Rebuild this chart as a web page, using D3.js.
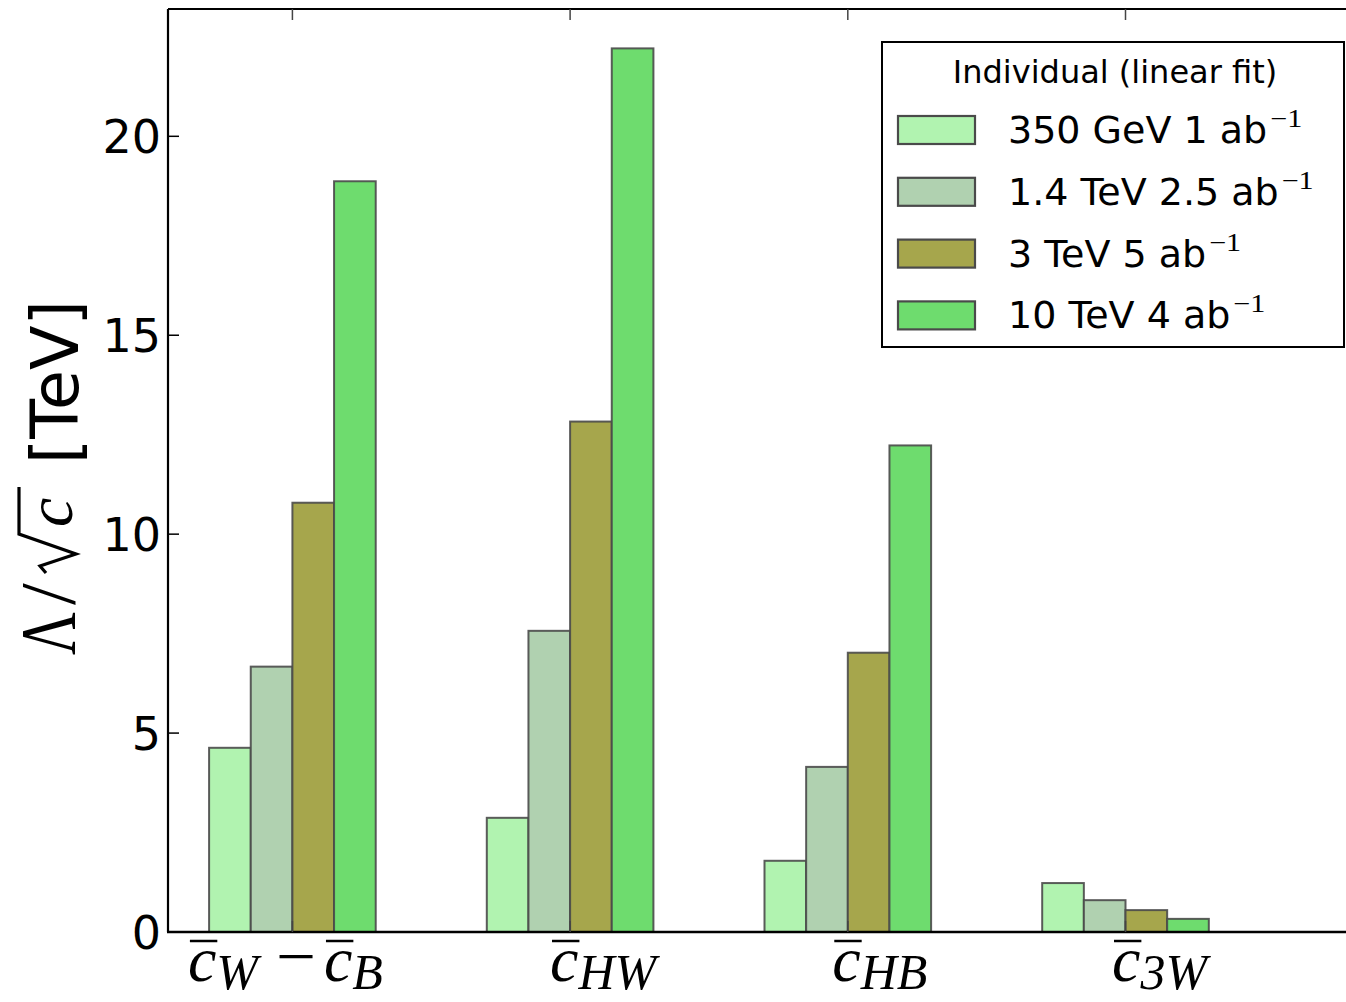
<!DOCTYPE html>
<html>
<head>
<meta charset="utf-8">
<script src="https://cdn.jsdelivr.net/npm/d3@7"></script>
<style>
  html, body { margin: 0; padding: 0; background: #fff; }
  svg { display: block; }
</style>
</head>
<body>
<svg id="chart" width="1346" height="1002"></svg>
<script>
// ---------------- data ----------------
const categories = ["c̄W − c̄B", "c̄HW", "c̄HB", "c̄3W"];
const seriesNames = ["350 GeV 1 ab", "1.4 TeV 2.5 ab", "3 TeV 5 ab", "10 TeV 4 ab"];
const seriesSup = "−1";
const vals350GeV = [4.63, 2.87, 1.79, 1.23];
const vals1p4TeV = [6.67, 7.57, 4.15, 0.80];
const vals3TeV   = [10.79, 12.83, 7.02, 0.55];
const vals10TeV  = [18.87, 22.21, 12.23, 0.33];
const seriesColors = ["#b1f3b0", "#b0d1b0", "#a6a64c", "#6edc6e"];
const yTicks = [0, 5, 10, 15, 20];
const legendTitle = "Individual (linear fit)";
const yLabelUnit = "[TeV]";
// math label pieces for categories
const categoryPieces = [
  [{t:"c", bar:true}, {t:"W", sub:true}, {t:"−", op:true}, {t:"c", bar:true}, {t:"B", sub:true}],
  [{t:"c", bar:true}, {t:"HW", sub:true}],
  [{t:"c", bar:true}, {t:"HB", sub:true}],
  [{t:"c", bar:true}, {t:"3W", sub:true}]
];

const seriesValues = [vals350GeV, vals1p4TeV, vals3TeV, vals10TeV];

// ---------------- layout ----------------
const svg = d3.select("#chart");
const plot = {left: 168, top: 9, right: 1346, bottom: 932};
const barW = 0.15;
const tickOffset = 0.3;
const x = d3.scaleLinear().domain([-0.148, 4.094]).range([plot.left, plot.right]);
const y = d3.scaleLinear().domain([0, 23.2]).range([plot.bottom, plot.top]);

const serif = "'Liberation Serif', 'DejaVu Serif', serif";
const sans = "'DejaVu Sans', 'Bitstream Vera Sans', sans-serif";

// bars
const barData = [];
seriesValues.forEach((vals, s) => {
  vals.forEach((v, i) => barData.push({s, i, v}));
});
svg.append("g").selectAll("rect").data(barData).join("rect")
  .attr("x", d => x(d.i + d.s * barW))
  .attr("y", d => y(d.v))
  .attr("width", d => x(d.i + (d.s + 1) * barW) - x(d.i + d.s * barW))
  .attr("height", d => y(0) - y(d.v))
  .attr("fill", d => seriesColors[d.s])
  .attr("stroke", "#4a4a4a")
  .attr("stroke-opacity", 0.9)
  .attr("stroke-width", 2);

// spines
const ax = svg.append("g");
ax.append("line").attr("x1", plot.left).attr("x2", plot.left).attr("y1", plot.top).attr("y2", plot.bottom)
  .attr("stroke", "#000").attr("stroke-width", 2.2);
ax.append("line").attr("x1", plot.left).attr("x2", plot.right).attr("y1", plot.top).attr("y2", plot.top)
  .attr("stroke", "#000").attr("stroke-width", 2.2);
ax.append("line").attr("x1", plot.left - 1).attr("x2", plot.right).attr("y1", plot.bottom).attr("y2", plot.bottom)
  .attr("stroke", "#000").attr("stroke-width", 2.5);

// y ticks (inward) + labels
yTicks.forEach(t => {
  ax.append("line").attr("x1", plot.left).attr("x2", plot.left + 11).attr("y1", y(t)).attr("y2", y(t))
    .attr("stroke", "#000").attr("stroke-width", 1.5);
  ax.append("text").attr("x", plot.left - 7).attr("y", y(t)).attr("dy", "0.36em")
    .attr("text-anchor", "end").attr("font-family", sans).attr("font-size", 46).attr("fill", "#000")
    .text(t);
});
// x ticks (top and bottom, inward)
categories.forEach((c, i) => {
  const xt = x(i + tickOffset);
  ax.append("line").attr("x1", xt).attr("x2", xt).attr("y1", plot.top).attr("y2", plot.top + 11)
    .attr("stroke", "#444").attr("stroke-width", 1.5);
  ax.append("line").attr("x1", xt).attr("x2", xt).attr("y1", plot.bottom).attr("y2", plot.bottom - 11)
    .attr("stroke", "#444").attr("stroke-width", 1.5);
});

// x category labels (math style)
const labelShift = [-7, 33, 32, 34];
const baseSize = 64, subSize = 50, subShift = 8;
function drawMath(parent, pieces, cx, baseline) {
  const g = parent.append("g");
  let cur = 0;
  pieces.forEach(p => {
    let pre = 0, post = 0;
    if (p.op) { pre = 18; post = 8; }
    const t = g.append("text")
      .attr("x", cur + pre)
      .attr("y", p.sub ? subShift : (p.op ? -3 : 0))
      .attr("font-family", serif)
      .attr("font-style", p.op ? "normal" : "italic")
      .attr("font-size", p.sub ? subSize : baseSize)
      .attr("fill", "#000")
      .text(p.t);
    if (p.op) t.attr("textLength", 40).attr("lengthAdjust", "spacingAndGlyphs");
    const w = p.op ? 40 : t.node().getComputedTextLength();
    if (p.bar) {
      g.append("line").attr("x1", cur + pre + 2).attr("x2", cur + pre + w + 1)
        .attr("y1", -40).attr("y2", -40).attr("stroke", "#000").attr("stroke-width", 2.5);
    }
    cur += pre + w + post;
  });
  g.attr("transform", `translate(${cx - cur / 2},${baseline})`);
}
categories.forEach((c, i) => {
  drawMath(svg, categoryPieces[i], x(i + tickOffset) + labelShift[i], 981);
});

// y axis label (rotated): local x runs upward from screen y=655, baseline at screen x=74
const yl = svg.append("g").attr("transform", "translate(74,655) rotate(-90)");
yl.append("text").attr("x", 0).attr("y", 0).attr("font-family", serif)
  .attr("font-size", 78).attr("fill", "#000")
  .attr("textLength", 43).attr("lengthAdjust", "spacingAndGlyphs").text("Λ");
yl.append("text").attr("x", 50).attr("y", 0).attr("font-family", serif)
  .attr("font-size", 78).attr("fill", "#000").text("/");
yl.append("path")
  .attr("d", "M82,-28 L89,-34 L101,2 L121,-55 L168,-55")
  .attr("fill", "none").attr("stroke", "#000").attr("stroke-width", 3.2).attr("stroke-linejoin", "miter");
yl.append("text").attr("x", 128).attr("y", -2).attr("font-family", serif)
  .attr("font-style", "italic").attr("font-size", 66).attr("fill", "#000").text("c");
yl.append("text").attr("x", 191).attr("y", 4).attr("font-family", sans)
  .attr("font-size", 65).attr("fill", "#000").text(yLabelUnit);

// legend
const lg = svg.append("g");
lg.append("rect").attr("x", 882).attr("y", 42).attr("width", 462).attr("height", 305)
  .attr("fill", "#fff").attr("stroke", "#000").attr("stroke-width", 2);
lg.append("text").attr("x", 1115).attr("y", 83).attr("text-anchor", "middle")
  .attr("font-family", sans).attr("font-size", 32).attr("fill", "#000").text(legendTitle);
seriesNames.forEach((n, s) => {
  const base = 143 + s * 61.8;
  lg.append("rect").attr("x", 898).attr("y", base - 27).attr("width", 77).attr("height", 28)
    .attr("fill", seriesColors[s]).attr("stroke", "#4a4a4a").attr("stroke-width", 2.2);
  const t = lg.append("text").attr("x", 1008).attr("y", base)
    .attr("font-family", sans).attr("font-size", 38).attr("fill", "#000").text(n);
  const w = t.node().getComputedTextLength();
  lg.append("text").attr("x", 1008 + w + 3).attr("y", base - 16)
    .attr("font-family", serif).attr("font-size", 25).attr("fill", "#000")
    .attr("textLength", 32).attr("lengthAdjust", "spacingAndGlyphs").text(seriesSup);
});
</script>
</body>
</html>
